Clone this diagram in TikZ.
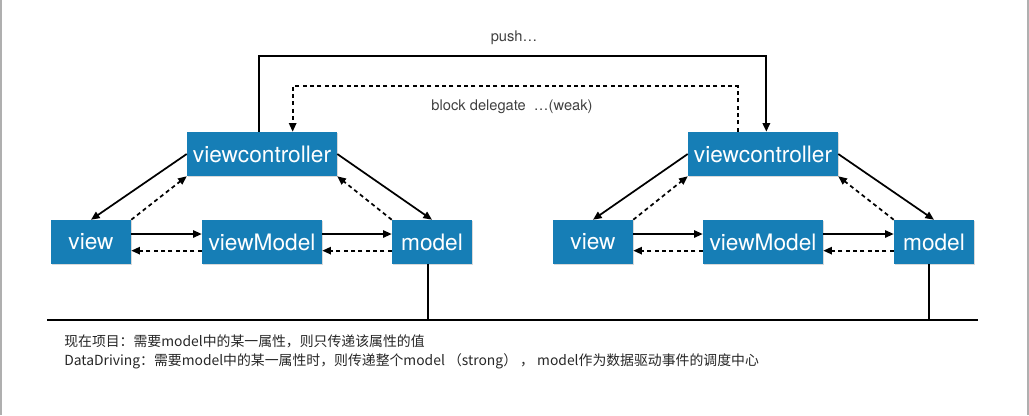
\documentclass[tikz,border=0pt]{standalone}
\usepackage{fontspec}
\setmainfont{TeX Gyre Heros}
\newfontfamily\cjk{Noto Sans CJK SC}
\usetikzlibrary{arrows.meta,shadows}

\definecolor{boxblue}{RGB}{22,126,182}
\definecolor{framegray}{RGB}{175,175,175}

\tikzset{
  box/.style={fill=boxblue, text=white, inner sep=0pt, minimum height=33pt,
    font=\fontsize{17}{20}\selectfont,
    drop shadow={shadow xshift=0.5pt, shadow yshift=-0.7pt, opacity=0.3}},
  link/.style={draw=black, line width=1.3pt, -{Triangle[length=6.5pt,width=5.5pt]}},
  back/.style={link, dash pattern=on 3pt off 2.5pt},
  note/.style={font=\fontsize{11}{13}\selectfont, text=black!75},
  remark/.style={font=\cjk\fontsize{10.4}{12}\selectfont, text=black!85, anchor=west, inner sep=0pt},
}

\begin{document}
\begin{tikzpicture}[x=0.75pt,y=-0.75pt]
        \useasboundingbox (0,0) rectangle (1029,415);
        \draw[framegray, line width=1.2pt] (0.8,0) -- (0.8,415);
        \draw[framegray, line width=1.2pt] (1028,0) -- (1028,415);

        % left group
        \node[box, minimum width=112.5pt] (vcL) at (262,154) {viewcontroller};
        \node[box, minimum width=60pt] (viewL) at (91,242) {view};
        \node[box, minimum width=90pt] (vmL) at (262,242) {viewModel};
        \node[box, minimum width=60pt] (modelL) at (432,242) {model};

        % right group
        \node[box, minimum width=112.5pt] (vcR) at (763,154) {viewcontroller};
        \node[box, minimum width=60pt] (viewR) at (593,242) {view};
        \node[box, minimum width=90pt] (vmR) at (763,242) {viewModel};
        \node[box, minimum width=60pt] (modelR) at (934,242) {model};

        \foreach \s in {L,R} {
            \path[link] (vc\s.west) -- (view\s.north);
            \path[back] (view\s.north east) -- (vc\s.south west);
            \path[link] (vc\s.east) -- (model\s.north);
            \path[back] (model\s.north west) -- (vc\s.south east);
            \path[link] ([yshift=6pt]view\s.east) -- ([yshift=6pt]vm\s.west);
            \path[back] ([yshift=-6.5pt]vm\s.west) -- ([yshift=-6.5pt]view\s.east);
            \path[link] ([yshift=6pt]vm\s.east) -- ([yshift=6pt]model\s.west);
            \path[back] ([yshift=-6.5pt]model\s.west) -- ([yshift=-6.5pt]vm\s.east);
        }

        % push and delegate
        \coordinate (pushtop) at (512,56);
        \coordinate (weaktop) at (512,86);
        \path[link, line width=1.6pt] ([xshift=-2.5pt]vcL.north) |- (pushtop) -| ([xshift=2.5pt]vcR.north);
        \path[back] ([xshift=-19pt]vcR.north) |- (weaktop) -| ([xshift=23pt]vcL.north);
        \node[note] (push) at (514,38) {push…};
        \node[note] (weak) at (512,107) {block delegate\ \ …(weak)};

        % base line
        \coordinate (baseL) at (47,320);
        \coordinate (baseR) at (978,320);
        \draw[line width=1.6pt] (baseL) -- (baseR);
        \draw[line width=1.3pt] ([xshift=-3pt]modelL.south) -- ++(0,56);
        \draw[line width=1.3pt] ([xshift=-3.5pt]modelR.south) -- ++(0,56);

        \node[remark] (line1) at (64,341) {现在项目：需要model中的某一属性，则只传递该属性的值};
        \node[remark] (line2) at (64,361) {DataDriving：需要model中的某一属性时，则传递整个model （strong） ，\ model作为数据驱动事件的调度中心};
    \end{tikzpicture}
\end{document}
